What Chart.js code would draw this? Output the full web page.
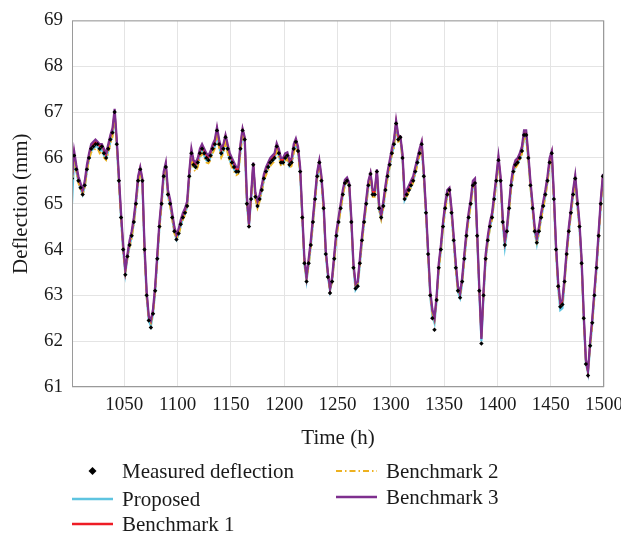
<!DOCTYPE html>
<html>
<head>
<meta charset="utf-8">
<script src="https://cdn.jsdelivr.net/npm/chart.js@4/dist/chart.umd.min.js"></script>
<style>
  html, body { margin: 0; padding: 0; background: #fff; }
  #wrap { position: relative; width: 621px; height: 539px; }
  #chart { position: absolute; left: 0; top: 0; }
  .legend-item {
    position: absolute;
    height: 24px;
    display: flex;
    align-items: center;
    font-family: "Liberation Serif", "Times New Roman", serif;
    font-size: 21px;
    color: #1a1a1a;
    white-space: nowrap;
  }
  .legend-item svg { margin-right: 9px; }
</style>
</head>
<body>
<div id="wrap">
  <canvas id="chart" width="621" height="539"></canvas>
  <div class="legend-item" style="left:72px; top:459px;">
    <svg width="41" height="10"><path d="M20.5 1 L24.5 5 L20.5 9 L16.5 5 Z" fill="#000"/></svg>Measured deflection
  </div>
  <div class="legend-item" style="left:72px; top:487px;">
    <svg width="41" height="10"><line x1="0" y1="5" x2="41" y2="5" stroke="#5ec4e0" stroke-width="2.5"/></svg>Proposed
  </div>
  <div class="legend-item" style="left:72px; top:512px;">
    <svg width="41" height="10"><line x1="0" y1="5" x2="41" y2="5" stroke="#ee1c25" stroke-width="2.5"/></svg>Benchmark 1
  </div>
  <div class="legend-item" style="left:336px; top:459px;">
    <svg width="41" height="10"><line x1="0" y1="5" x2="41" y2="5" stroke="#edb120" stroke-width="2" stroke-dasharray="6 3 1.5 3"/></svg>Benchmark 2
  </div>
  <div class="legend-item" style="left:336px; top:485px;">
    <svg width="41" height="10"><line x1="0" y1="5" x2="41" y2="5" stroke="#7e2f8e" stroke-width="2.5"/></svg>Benchmark 3
  </div>
</div>
<script>
// time grid: one value every 2 hours
const firstHour = 1001;
const hourStep = 2;
const xTicks = [1050, 1100, 1150, 1200, 1250, 1300, 1350, 1400, 1450, 1500];
const yTicks = [61, 62, 63, 64, 65, 66, 67, 68, 69];

const measured = [
  65.55, 66.05, 65.75, 65.5, 65.35, 65.2, 65.4, 65.75, 66.0, 66.2,
  66.25, 66.3, 66.3, 66.2, 66.25, 66.1, 66.0, 66.2, 66.4, 66.55,
  67.0, 66.3, 65.5, 64.7, 64.0, 63.45, 63.85, 64.1, 64.3, 64.6,
  65.0, 65.5, 65.75, 65.5, 64.0, 63.0, 62.45, 62.3, 62.6, 63.1,
  63.8, 64.5, 65.0, 65.6, 65.8, 65.2, 65.0, 64.7, 64.4, 64.22,
  64.35, 64.55, 64.7, 64.8, 64.95, 65.6, 66.1, 65.85, 65.8, 65.9,
  66.1, 66.2, 66.1, 66.0, 65.95, 66.05, 66.2, 66.3, 66.6, 66.3,
  66.1, 66.2, 66.45, 66.2, 66.0, 65.9, 65.8, 65.7, 65.7, 66.2,
  66.6, 66.4, 65.0, 64.5, 65.1, 65.85, 65.15, 64.95, 65.1, 65.3,
  65.55, 65.7, 65.8, 65.9, 65.95, 66.0, 66.25, 66.1, 65.9, 65.9,
  66.0, 66.05, 65.85, 65.9, 66.2, 66.35, 66.15, 65.7, 64.7, 63.7,
  63.3, 63.7, 64.1, 64.6, 65.1, 65.6, 65.9, 65.5, 64.9, 63.9,
  63.4, 63.05, 63.3, 63.8, 64.3, 64.6, 64.9, 65.2, 65.45, 65.5,
  65.4, 64.6, 63.6, 63.15, 63.2, 63.7, 64.2, 64.6, 65.0, 65.4,
  65.65, 65.2, 65.2, 65.7, 64.9, 64.7, 64.95, 65.3, 65.6, 65.85,
  66.1, 66.3, 66.75, 66.4, 66.45, 66.0, 65.1, 65.2, 65.3, 65.4,
  65.5, 65.7, 65.9, 66.1, 66.3, 65.6, 64.8, 63.9, 63.0, 62.5,
  62.25, 62.9, 63.6, 64.0, 64.5, 64.9, 65.2, 65.3, 64.8, 64.2,
  63.6, 63.1, 62.95, 63.3, 63.8, 64.3, 64.7, 65.0, 65.4, 65.45,
  64.3, 63.1, 61.95, 63.0, 63.8, 64.2, 64.5, 64.7, 65.1, 65.5,
  65.95, 65.5, 64.6, 64.1, 64.4, 64.9, 65.4, 65.7, 65.85, 65.9,
  66.0, 66.15, 66.5, 66.5, 66.0, 65.4, 64.9, 64.4, 64.15, 64.4,
  64.7, 64.95, 65.2, 65.5, 65.9, 66.1, 65.1, 64.0, 63.2, 62.75,
  62.8, 63.3, 63.9, 64.4, 64.8, 65.2, 65.55, 65.0, 64.5, 63.7,
  62.5, 61.5, 61.25, 61.9, 62.4, 63.0, 63.6, 64.3, 65.0, 65.6
];

const proposed = [
  65.0, 66.0, 65.72, 65.48, 65.33, 65.2, 65.38, 65.72, 65.98, 66.15,
  66.2, 66.25, 66.25, 66.15, 66.2, 66.05, 65.98, 66.15, 66.35, 66.5,
  66.95, 66.28, 65.48, 64.68, 63.98, 63.48, 63.82, 64.08, 64.28, 64.58,
  64.98, 65.48, 65.72, 65.48, 63.98, 62.98, 62.45, 62.33, 62.6, 63.08,
  63.78, 64.48, 64.98, 65.58, 65.78, 65.18, 64.98, 64.68, 64.38, 64.22,
  64.33, 64.52, 64.68, 64.78, 64.93, 65.58, 66.05, 65.82, 65.78, 65.88,
  66.05, 66.15, 66.05, 65.95, 65.92, 66.02, 66.15, 66.25, 66.55, 66.25,
  66.05, 66.15, 66.4, 66.15, 65.95, 65.85, 65.75, 65.68, 65.68, 66.15,
  66.55, 66.35, 65.0, 64.52, 65.08, 65.8, 65.12, 64.93, 65.08, 65.28,
  65.52, 65.68, 65.78, 65.88, 65.92, 65.98, 66.2, 66.05, 65.88, 65.88,
  65.98, 66.02, 65.82, 65.88, 66.15, 66.32, 66.15, 65.68, 64.68, 63.68,
  63.32, 63.68, 64.08, 64.58, 65.08, 65.58, 65.88, 65.48, 64.88, 63.9,
  63.42, 63.1, 63.32, 63.78, 64.28, 64.58, 64.88, 65.18, 65.43, 65.48,
  65.38, 64.58, 63.6, 63.12, 63.2, 63.68, 64.18, 64.58, 64.98, 65.38,
  65.62, 65.18, 65.18, 65.65, 64.88, 64.68, 64.92, 65.28, 65.58, 65.82,
  66.08, 66.25, 66.7, 66.38, 66.42, 65.98, 65.08, 65.18, 65.28, 65.38,
  65.48, 65.68, 65.88, 66.08, 66.25, 65.58, 64.78, 63.88, 62.98, 62.55,
  62.4, 62.88, 63.58, 63.98, 64.48, 64.88, 65.18, 65.28, 64.78, 64.18,
  63.58, 63.08, 62.95, 63.28, 63.78, 64.28, 64.68, 64.98, 65.38, 65.43,
  64.28, 63.08, 62.0, 62.98, 63.78, 64.18, 64.48, 64.68, 65.08, 65.48,
  65.92, 65.48, 64.58, 64.05, 64.38, 64.88, 65.38, 65.68, 65.82, 65.88,
  65.98, 66.12, 66.45, 66.45, 65.98, 65.38, 64.88, 64.38, 64.12, 64.38,
  64.68, 64.92, 65.18, 65.48, 65.88, 66.05, 65.08, 63.98, 63.18, 62.68,
  62.72, 63.28, 63.88, 64.38, 64.78, 65.18, 65.52, 64.98, 64.48, 63.68,
  62.48, 61.52, 61.3, 61.88, 62.38, 62.98, 63.58, 64.28, 64.98, 65.5
];

const benchmark1 = [
  65.55, 66.1, 65.8, 65.55, 65.4, 65.25, 65.45, 65.8, 66.05, 66.25,
  66.3, 66.35, 66.32, 66.25, 66.28, 66.15, 66.05, 66.25, 66.45, 66.6,
  67.02, 66.35, 65.55, 64.75, 64.05, 63.52, 63.88, 64.15, 64.35, 64.65,
  65.05, 65.55, 65.78, 65.52, 64.05, 63.05, 62.52, 62.42, 62.65, 63.15,
  63.85, 64.55, 65.05, 65.65, 65.85, 65.25, 65.05, 64.75, 64.45, 64.28,
  64.4, 64.6, 64.75, 64.85, 65.0, 65.65, 66.15, 65.9, 65.85, 65.95,
  66.15, 66.25, 66.15, 66.05, 66.0, 66.1, 66.25, 66.35, 66.63, 66.35,
  66.15, 66.25, 66.48, 66.25, 66.05, 65.95, 65.85, 65.75, 65.75, 66.25,
  66.62, 66.42, 65.1, 64.52, 65.15, 65.88, 65.2, 65.0, 65.15, 65.35,
  65.6, 65.75, 65.85, 65.95, 66.0, 66.05, 66.28, 66.15, 65.95, 65.95,
  66.05, 66.08, 65.9, 65.95, 66.25, 66.38, 66.2, 65.75, 64.75, 63.75,
  63.38, 63.75, 64.15, 64.65, 65.15, 65.65, 65.92, 65.55, 64.95, 63.95,
  63.48, 63.12, 63.35, 63.85, 64.35, 64.65, 64.95, 65.25, 65.48, 65.53,
  65.42, 64.65, 63.65, 63.22, 63.28, 63.75, 64.25, 64.65, 65.05, 65.45,
  65.66, 65.25, 65.25, 65.72, 64.95, 64.72, 65.0, 65.35, 65.65, 65.9,
  66.15, 66.35, 66.78, 66.45, 66.46, 66.05, 65.15, 65.25, 65.35, 65.45,
  65.55, 65.75, 65.95, 66.15, 66.33, 65.65, 64.85, 63.95, 63.05, 62.65,
  62.48, 62.95, 63.65, 64.05, 64.55, 64.95, 65.25, 65.32, 64.85, 64.25,
  63.65, 63.15, 63.02, 63.35, 63.85, 64.35, 64.75, 65.05, 65.45, 65.5,
  64.35, 63.15, 62.08, 63.05, 63.85, 64.25, 64.55, 64.75, 65.15, 65.55,
  66.0, 65.55, 64.65, 64.15, 64.45, 64.95, 65.45, 65.75, 65.9, 65.95,
  66.05, 66.2, 66.55, 66.55, 66.05, 65.45, 64.95, 64.45, 64.2, 64.45,
  64.75, 65.0, 65.25, 65.55, 65.95, 66.12, 65.15, 64.05, 63.25, 62.82,
  62.85, 63.35, 63.95, 64.45, 64.85, 65.25, 65.58, 65.05, 64.55, 63.75,
  62.55, 61.55, 61.32, 61.95, 62.45, 63.05, 63.65, 64.35, 65.05, 65.62
];

const benchmark2 = [
  65.5, 65.95, 65.7, 65.45, 65.3, 65.2, 65.35, 65.7, 65.95, 66.12,
  66.15, 66.2, 66.2, 66.1, 66.15, 66.0, 65.95, 66.1, 66.3, 66.45,
  66.9, 66.25, 65.45, 64.65, 63.95, 63.5, 63.8, 64.05, 64.25, 64.55,
  64.95, 65.45, 65.7, 65.45, 63.95, 62.95, 62.5, 62.4, 62.6, 63.05,
  63.75, 64.45, 64.95, 65.55, 65.75, 65.15, 64.95, 64.65, 64.35, 64.25,
  64.3, 64.5, 64.65, 64.75, 64.9, 65.55, 66.0, 65.75, 65.7, 65.8,
  66.0, 66.1, 66.0, 65.9, 65.88, 65.95, 66.1, 66.2, 66.5, 66.2,
  66.0, 66.1, 66.35, 66.1, 65.9, 65.8, 65.7, 65.62, 65.65, 66.1,
  66.5, 66.3, 65.0, 64.55, 65.05, 65.75, 65.1, 64.9, 65.05, 65.25,
  65.5, 65.62, 65.72, 65.82, 65.88, 65.92, 66.15, 66.0, 65.82, 65.82,
  65.92, 65.98, 65.78, 65.82, 66.1, 66.28, 66.1, 65.65, 64.65, 63.7,
  63.35, 63.65, 64.05, 64.55, 65.05, 65.55, 65.85, 65.45, 64.85, 63.9,
  63.45, 63.1, 63.3, 63.75, 64.25, 64.55, 64.85, 65.15, 65.4, 65.45,
  65.35, 64.55, 63.6, 63.2, 63.25, 63.65, 64.15, 64.55, 64.95, 65.35,
  65.6, 65.15, 65.15, 65.62, 64.85, 64.65, 64.9, 65.25, 65.55, 65.8,
  66.05, 66.22, 66.65, 66.35, 66.38, 65.95, 65.1, 65.15, 65.25, 65.35,
  65.45, 65.65, 65.85, 66.05, 66.22, 65.55, 64.75, 63.85, 63.0, 62.6,
  62.45, 62.9, 63.55, 63.95, 64.45, 64.85, 65.15, 65.25, 64.75, 64.15,
  63.55, 63.1, 63.0, 63.3, 63.75, 64.25, 64.65, 64.95, 65.35, 65.4,
  64.25, 63.1, 62.1, 63.0, 63.75, 64.15, 64.45, 64.65, 65.05, 65.45,
  65.9, 65.45, 64.55, 64.15, 64.4, 64.85, 65.35, 65.62, 65.78, 65.85,
  65.95, 66.08, 66.42, 66.42, 65.95, 65.35, 64.85, 64.35, 64.15, 64.35,
  64.65, 64.9, 65.15, 65.45, 65.85, 66.02, 65.05, 63.95, 63.15, 62.8,
  62.8, 63.25, 63.85, 64.35, 64.75, 65.15, 65.5, 64.95, 64.45, 63.65,
  62.45, 61.55, 61.35, 61.9, 62.35, 62.95, 63.55, 64.25, 64.95, 65.55
];

const benchmark3 = [
  65.6, 66.15, 65.85, 65.6, 65.45, 65.3, 65.5, 65.85, 66.1, 66.3,
  66.35, 66.4, 66.35, 66.3, 66.3, 66.2, 66.1, 66.3, 66.5, 66.65,
  67.07, 66.4, 65.6, 64.8, 64.1, 63.55, 63.9, 64.2, 64.4, 64.7,
  65.1, 65.6, 65.8, 65.55, 64.1, 63.1, 62.55, 62.45, 62.7, 63.2,
  63.9, 64.6, 65.1, 65.7, 65.9, 65.3, 65.1, 64.8, 64.5, 64.32,
  64.45, 64.65, 64.8, 64.9, 65.05, 65.7, 66.2, 65.95, 65.9, 66.0,
  66.2, 66.3, 66.2, 66.1, 66.05, 66.15, 66.3, 66.4, 66.67, 66.4,
  66.2, 66.3, 66.5, 66.3, 66.1, 66.0, 65.9, 65.8, 65.8, 66.3,
  66.64, 66.45, 65.2, 64.55, 65.2, 65.9, 65.25, 65.05, 65.2, 65.4,
  65.65, 65.8, 65.9, 66.0, 66.05, 66.1, 66.32, 66.2, 66.0, 66.0,
  66.1, 66.12, 65.95, 66.0, 66.3, 66.42, 66.25, 65.8, 64.8, 63.8,
  63.4, 63.8, 64.2, 64.7, 65.2, 65.7, 65.95, 65.6, 65.0, 64.0,
  63.5, 63.15, 63.4, 63.9, 64.4, 64.7, 65.0, 65.3, 65.52, 65.57,
  65.45, 64.7, 63.7, 63.25, 63.3, 63.8, 64.3, 64.7, 65.1, 65.5,
  65.67, 65.3, 65.3, 65.75, 65.0, 64.75, 65.05, 65.4, 65.7, 65.95,
  66.2, 66.4, 66.82, 66.5, 66.47, 66.1, 65.2, 65.3, 65.4, 65.5,
  65.6, 65.8, 66.0, 66.2, 66.36, 65.7, 64.9, 64.0, 63.1, 62.7,
  62.5, 63.0, 63.7, 64.1, 64.6, 65.0, 65.3, 65.35, 64.9, 64.3,
  63.7, 63.2, 63.05, 63.4, 63.9, 64.4, 64.8, 65.1, 65.5, 65.55,
  64.4, 63.2, 62.05, 63.1, 63.9, 64.3, 64.6, 64.8, 65.2, 65.6,
  66.04, 65.6, 64.7, 64.2, 64.5, 65.0, 65.5, 65.8, 65.95, 66.0,
  66.1, 66.25, 66.6, 66.6, 66.1, 65.5, 65.0, 64.5, 64.25, 64.5,
  64.8, 65.05, 65.3, 65.6, 66.0, 66.15, 65.2, 64.1, 63.3, 62.85,
  62.9, 63.4, 64.0, 64.5, 64.9, 65.3, 65.62, 65.1, 64.6, 63.8,
  62.6, 61.6, 61.35, 62.0, 62.5, 63.1, 63.7, 64.4, 65.1, 65.65
];

const hours = measured.map((_, i) => firstHour + i * hourStep);

const serif = "'Liberation Serif', 'Times New Roman', serif";

// MATLAB-style closed box around the plot area
const boxPlugin = {
  id: "box",
  afterDraw(chart) {
    const { ctx, chartArea: a } = chart;
    ctx.save();
    ctx.strokeStyle = "#9a9a9a";
    ctx.lineWidth = 1;
    ctx.strokeRect(a.left + 0.5, a.top + 0.5, a.right - a.left - 1, a.bottom - a.top - 1);
    ctx.restore();
  }
};

function lineSet(label, data, color, order, extra) {
  return Object.assign({
    label,
    data,
    borderColor: color,
    backgroundColor: color,
    borderWidth: 1.8,
    pointRadius: 0,
    tension: 0,
    fill: false,
    order
  }, extra || {});
}

new Chart(document.getElementById("chart"), {
  type: "line",
  data: {
    labels: hours,
    datasets: [
      {
        label: "Measured deflection",
        data: measured,
        showLine: false,
        pointStyle: "rectRot",
        pointRadius: 2.2,
        pointBackgroundColor: "#000",
        pointBorderColor: "#000",
        pointBorderWidth: 0,
        order: 0
      },
      lineSet("Proposed", proposed, "#5ec4e0", 4, { borderWidth: 2.2 }),
      lineSet("Benchmark 1", benchmark1, "#ee1c25", 3),
      lineSet("Benchmark 2", benchmark2, "#edb120", 2, { borderDash: [6, 3, 1.5, 3] }),
      lineSet("Benchmark 3", benchmark3, "#7e2f8e", 1, { borderWidth: 2.2 })
    ]
  },
  options: {
    responsive: false,
    animation: false,
    layout: { padding: { left: 0, top: 15, right: 17, bottom: 86 } },
    plugins: { legend: { display: false }, tooltip: { enabled: false } },
    scales: {
      x: {
        type: "linear",
        min: 1001,
        max: 1500,
        afterBuildTicks: (s) => { s.ticks = xTicks.map((v) => ({ value: v })); },
        afterFit: (s) => { s.height = 66; s.paddingLeft = 0; s.paddingRight = 0; },
        grid: { color: "#e4e4e4", drawTicks: false },
        border: { display: false },
        ticks: {
          padding: 7,
          maxRotation: 0,
          color: "#1a1a1a",
          font: { family: serif, size: 19 },
          callback: (v) => String(v)
        },
        title: {
          display: true,
          text: "Time (h)",
          color: "#1a1a1a",
          padding: { top: 2, bottom: 2 },
          font: { family: serif, size: 21 }
        }
      },
      y: {
        min: 61,
        max: 69,
        afterBuildTicks: (s) => { s.ticks = yTicks.map((v) => ({ value: v })); },
        afterFit: (s) => { s.width = 72; },
        grid: { color: "#e4e4e4", drawTicks: false },
        border: { display: false },
        ticks: {
          padding: 9,
          color: "#1a1a1a",
          font: { family: serif, size: 19 },
          callback: (v) => String(v)
        },
        title: {
          display: true,
          text: "Deflection (mm)",
          color: "#1a1a1a",
          padding: { top: 9, bottom: 4 },
          font: { family: serif, size: 21 }
        }
      }
    }
  },
  plugins: [boxPlugin]
});
</script>
</body>
</html>
